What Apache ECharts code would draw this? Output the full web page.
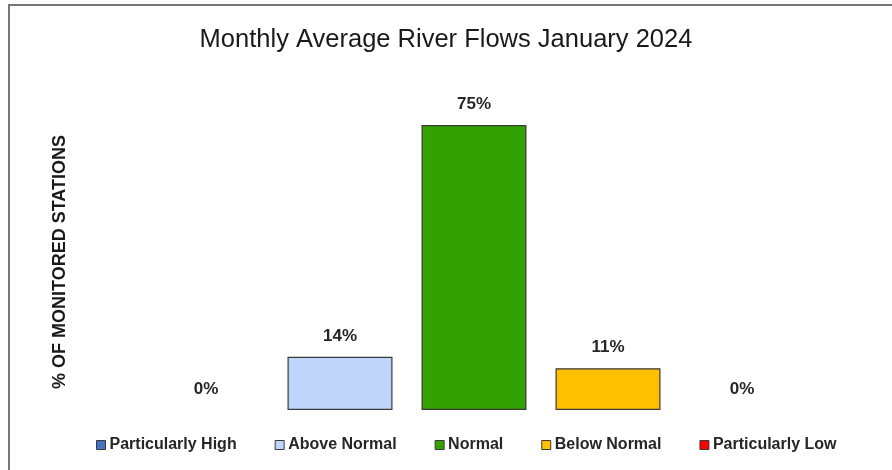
<!DOCTYPE html>
<html>
<head>
<meta charset="utf-8">
<script src="https://cdn.jsdelivr.net/npm/echarts@6/dist/echarts.min.js"></script>
<style>
  html, body { margin: 0; padding: 0; background: #ffffff; }
  #chart { width: 892px; height: 470px; }
</style>
</head>
<body>
<div id="chart"></div>
<script>
// Flow classes and share of monitored stations (%)
const categories = ['Particularly High', 'Above Normal', 'Normal', 'Below Normal', 'Particularly Low'];
const percentages = [0, 14, 75, 11, 0];
const colors = ['#4472C4', '#C0D5FA', '#33A100', '#FFC000', '#FF0000'];
const yAxisTitle = '% OF MONITORED STATIONS';

const chart = echarts.init(document.getElementById('chart'), null, { renderer: 'canvas' });

// One series per class so each gets its own legend entry; stacking keeps bars centred.
const series = categories.map(function (name, i) {
  const data = categories.map(function (_, j) { return j === i ? percentages[i] : null; });
  return {
    name: name,
    type: 'bar',
    stack: 'flows',
    barWidth: 105,
    data: data,
    itemStyle: {
      color: colors[i],
      borderColor: '#3a3a3a',
      borderWidth: percentages[i] > 0 ? 1.2 : 0
    },
    label: {
      show: true,
      position: 'top',
      distance: 12,
      formatter: function (p) { return p.value + '%'; },
      fontFamily: 'Liberation Sans',
      fontWeight: 'bold',
      fontSize: 17,
      color: '#262626'
    }
  };
});

chart.setOption({
  animation: false,
  backgroundColor: '#ffffff',
  title: {
    text: 'Monthly Average River Flows January 2024',
    left: 'center',
    top: 22,
    textStyle: {
      fontFamily: 'Liberation Sans',
      fontWeight: 'normal',
      fontSize: 25.5,
      color: '#1a1a1a'
    }
  },
  legend: {
    top: 432,
    left: 91,
    itemWidth: 9,
    itemHeight: 9,
    itemGap: 38,
    icon: 'rect',
    textStyle: {
      fontFamily: 'Liberation Sans',
      fontWeight: 'bold',
      fontSize: 16,
      color: '#262626',
      padding: [0, 0, 0, -1]
    },
    data: categories.map(function (name, i) {
      return { name: name, itemStyle: { color: colors[i], borderColor: '#3a3a3a', borderWidth: 1 } };
    })
  },
  grid: { left: 139, right: 83, top: 30, bottom: 60, containLabel: false },
  xAxis: {
    type: 'category',
    data: categories,
    show: false
  },
  yAxis: {
    type: 'value',
    min: 0,
    max: 100,
    show: false
  },
  graphic: [{
    type: 'rect',
    silent: true,
    shape: { x: 9, y: 5, width: 1000, height: 600 },
    style: { fill: null, stroke: '#777777', lineWidth: 2 }
  }, {
    type: 'text',
    silent: true,
    x: 60,
    y: 262,
    rotation: Math.PI / 2,
    style: {
      text: yAxisTitle,
      fontFamily: 'Liberation Sans',
      fontWeight: 'bold',
      fontSize: 18,
      fill: '#1a1a1a',
      align: 'center',
      verticalAlign: 'middle'
    }
  }],
  series: series
});
</script>
</body>
</html>
